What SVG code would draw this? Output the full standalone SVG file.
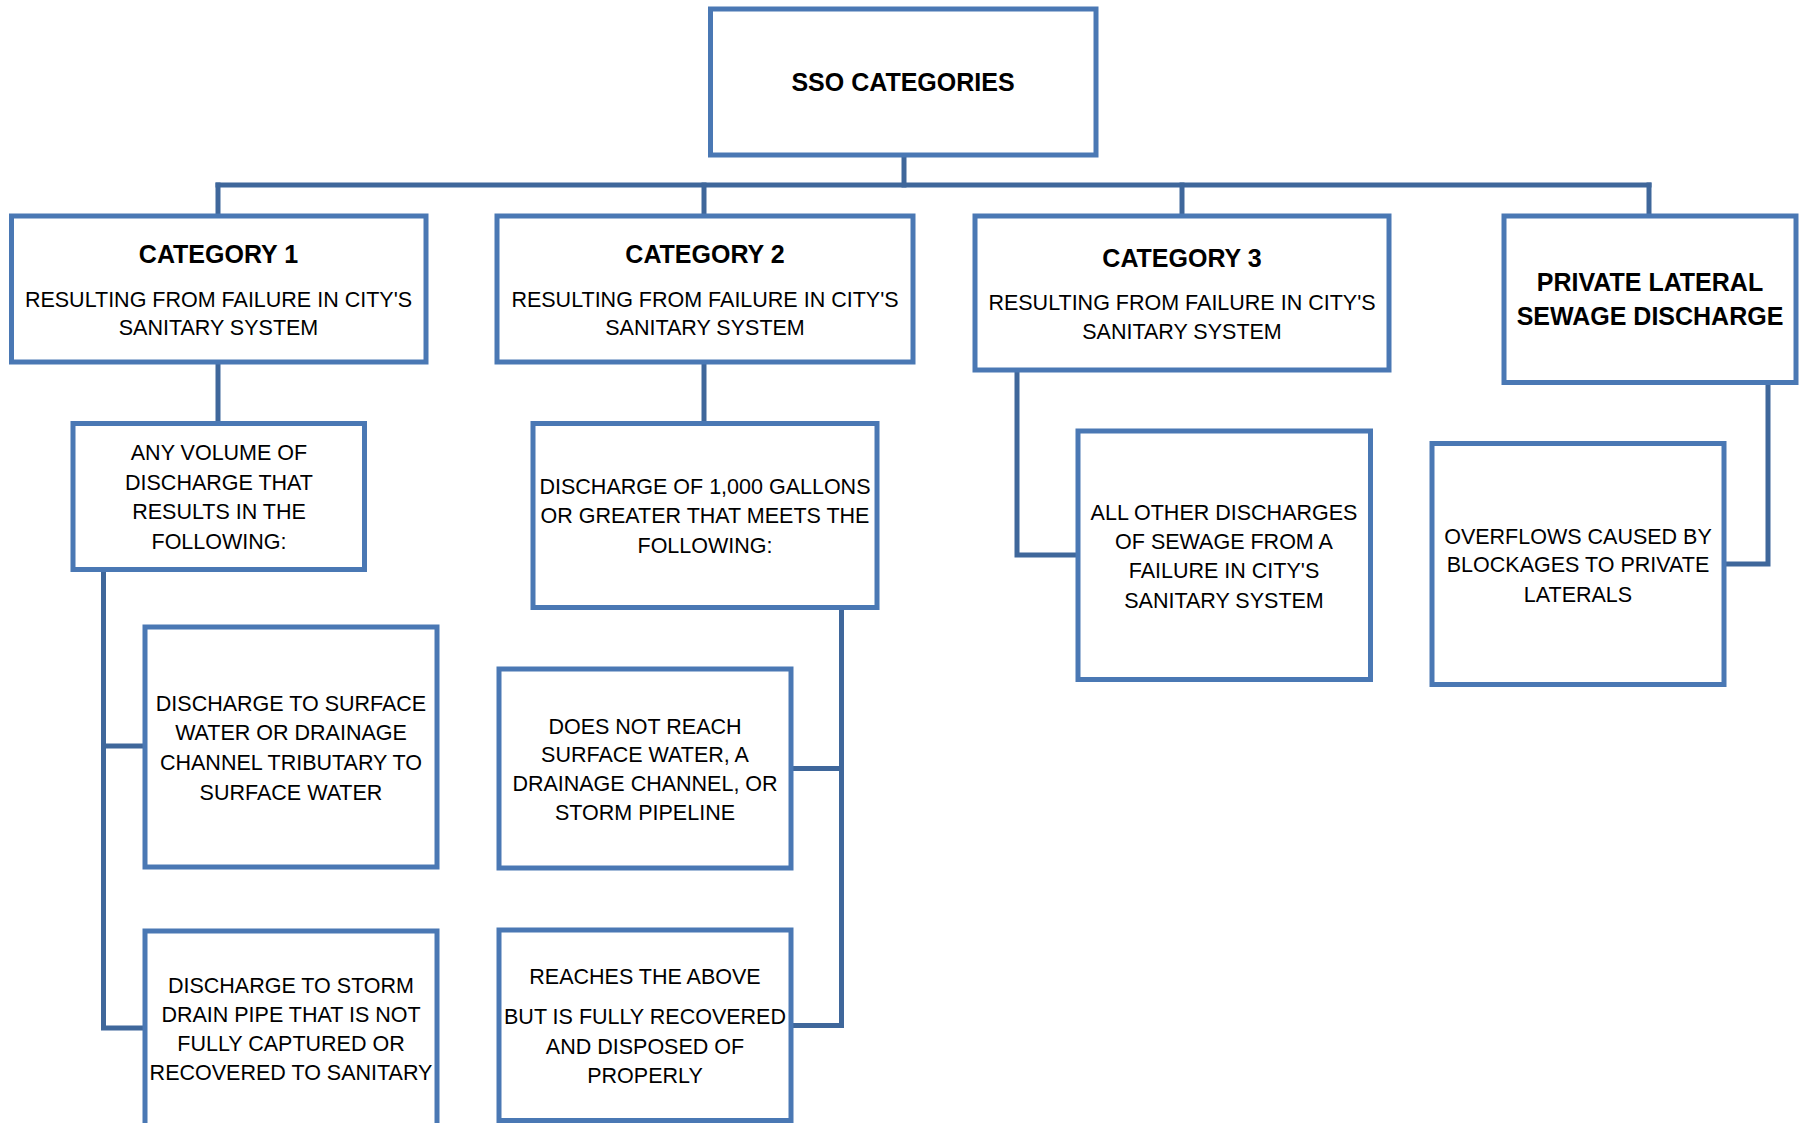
<svg xmlns="http://www.w3.org/2000/svg" width="1802" height="1123" viewBox="0 0 1802 1123">
  <style>
    .box { fill: #ffffff; stroke: #4A78B4; stroke-width: 5; }
    .conn { fill: none; stroke: #3F679B; stroke-width: 5; stroke-linejoin: miter; stroke-linecap: square; }
    .t { font-family: "Liberation Sans", Arial, sans-serif; font-size: 21.5px; fill: #000000; text-anchor: middle; }
    .h { font-family: "Liberation Sans", Arial, sans-serif; font-size: 25px; font-weight: bold; fill: #000000; text-anchor: middle; }
  </style>
  <rect x="0" y="0" width="1802" height="1123" fill="#ffffff"/>

  <g id="connectors">
    <path class="conn" d="M904 155 V185"/>
    <path class="conn" d="M218 185 H1649"/>
    <path class="conn" d="M218 185 V216"/>
    <path class="conn" d="M704 185 V216"/>
    <path class="conn" d="M1182 185 V216"/>
    <path class="conn" d="M1649 185 V216"/>
    <path class="conn" d="M218 362 V423.5"/>
    <path class="conn" d="M704 362 V423.5"/>
    <path class="conn" d="M103.5 569.5 V1028 H145"/>
    <path class="conn" d="M103.5 746 H145"/>
    <path class="conn" d="M841.5 607.5 V1025.5 H791"/>
    <path class="conn" d="M791 768.5 H841.5"/>
    <path class="conn" d="M1017 370 V555 H1078"/>
    <path class="conn" d="M1768 382.5 V564 H1724"/>
  </g>

  <g id="sso">
    <rect class="box" x="710.5" y="9" width="385.5" height="146"/>
    <text class="h" x="903" y="90.5">SSO CATEGORIES</text>
  </g>

  <g id="cat1">
    <rect class="box" x="11.5" y="216" width="414.5" height="146"/>
    <text class="h" x="218.5" y="263">CATEGORY 1</text>
    <text class="t" x="218.5" y="307">RESULTING FROM FAILURE IN CITY'S</text>
    <text class="t" x="218.5" y="335">SANITARY SYSTEM</text>
  </g>

  <g id="cat2">
    <rect class="box" x="497" y="216" width="416" height="146"/>
    <text class="h" x="705" y="263">CATEGORY 2</text>
    <text class="t" x="705" y="307">RESULTING FROM FAILURE IN CITY'S</text>
    <text class="t" x="705" y="335">SANITARY SYSTEM</text>
  </g>

  <g id="cat3">
    <rect class="box" x="975" y="216" width="414" height="154"/>
    <text class="h" x="1182" y="267">CATEGORY 3</text>
    <text class="t" x="1182" y="310">RESULTING FROM FAILURE IN CITY'S</text>
    <text class="t" x="1182" y="339">SANITARY SYSTEM</text>
  </g>

  <g id="private">
    <rect class="box" x="1504" y="216" width="292" height="166.5"/>
    <text class="h" x="1650" y="291">PRIVATE LATERAL</text>
    <text class="h" x="1650" y="325">SEWAGE DISCHARGE</text>
  </g>

  <g id="cat1-any-volume">
    <rect class="box" x="73" y="423.5" width="291.5" height="146"/>
    <text class="t" x="219" y="460">ANY VOLUME OF</text>
    <text class="t" x="219" y="489.5">DISCHARGE THAT</text>
    <text class="t" x="219" y="519">RESULTS IN THE</text>
    <text class="t" x="219" y="548.5">FOLLOWING:</text>
  </g>

  <g id="cat1-surface-water">
    <rect class="box" x="145" y="627" width="292" height="240"/>
    <text class="t" x="291" y="710.5">DISCHARGE TO SURFACE</text>
    <text class="t" x="291" y="740">WATER OR DRAINAGE</text>
    <text class="t" x="291" y="770">CHANNEL TRIBUTARY TO</text>
    <text class="t" x="291" y="799.5">SURFACE WATER</text>
  </g>

  <g id="cat1-storm-drain">
    <rect class="box" x="145" y="931" width="292" height="215"/>
    <text class="t" x="291" y="993">DISCHARGE TO STORM</text>
    <text class="t" x="291" y="1022">DRAIN PIPE THAT IS NOT</text>
    <text class="t" x="291" y="1051">FULLY CAPTURED OR</text>
    <text class="t" x="291" y="1079.5">RECOVERED TO SANITARY</text>
  </g>

  <g id="cat2-1000-gallons">
    <rect class="box" x="533" y="423.5" width="344" height="184"/>
    <text class="t" x="705" y="494">DISCHARGE OF 1,000 GALLONS</text>
    <text class="t" x="705" y="523">OR GREATER THAT MEETS THE</text>
    <text class="t" x="705" y="552.5">FOLLOWING:</text>
  </g>

  <g id="cat2-not-reach">
    <rect class="box" x="499" y="669" width="292" height="199"/>
    <text class="t" x="645" y="733.5">DOES NOT REACH</text>
    <text class="t" x="645" y="762">SURFACE WATER, A</text>
    <text class="t" x="645" y="790.5">DRAINAGE CHANNEL, OR</text>
    <text class="t" x="645" y="820">STORM PIPELINE</text>
  </g>

  <g id="cat2-recovered">
    <rect class="box" x="499" y="930" width="292" height="190.5"/>
    <text class="t" x="645" y="984">REACHES THE ABOVE</text>
    <text class="t" x="645" y="1024">BUT IS FULLY RECOVERED</text>
    <text class="t" x="645" y="1053.5">AND DISPOSED OF</text>
    <text class="t" x="645" y="1082.5">PROPERLY</text>
  </g>

  <g id="cat3-other">
    <rect class="box" x="1078" y="431" width="292.5" height="248.5"/>
    <text class="t" x="1224" y="520">ALL OTHER DISCHARGES</text>
    <text class="t" x="1224" y="549">OF SEWAGE FROM A</text>
    <text class="t" x="1224" y="578">FAILURE IN CITY'S</text>
    <text class="t" x="1224" y="607.5">SANITARY SYSTEM</text>
  </g>

  <g id="private-overflows">
    <rect class="box" x="1432" y="443.5" width="292" height="241"/>
    <text class="t" x="1578" y="543.5">OVERFLOWS CAUSED BY</text>
    <text class="t" x="1578" y="572">BLOCKAGES TO PRIVATE</text>
    <text class="t" x="1578" y="601.5">LATERALS</text>
  </g>
</svg>
